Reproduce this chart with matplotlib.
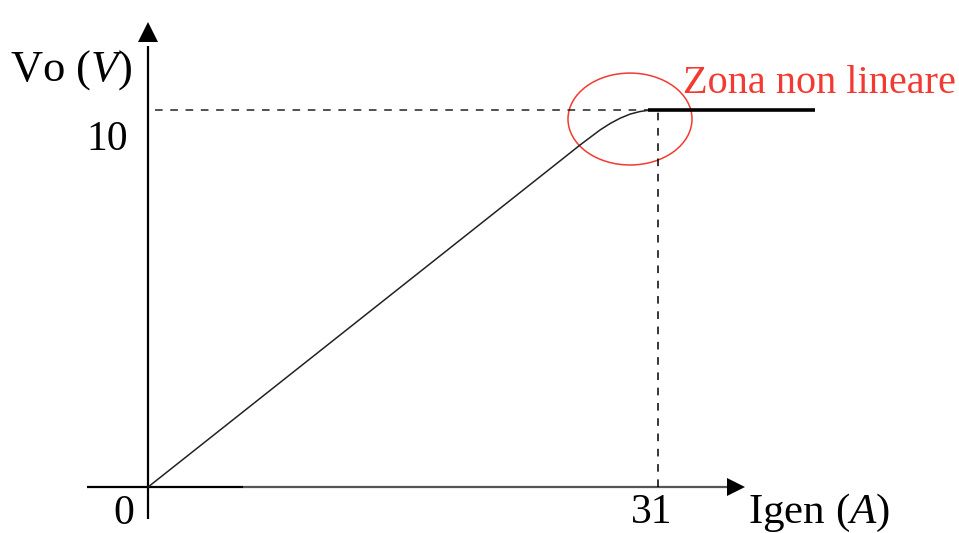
import matplotlib
matplotlib.use('Agg')
import matplotlib.pyplot as plt
from matplotlib.patches import Ellipse

# transfer curve Vo vs Igen
igen = [0.0, 25.05, 26.26, 26.87, 27.48, 28.09, 28.69, 29.30, 29.91, 30.4]
vo = [0.0, 8.66, 9.08, 9.28, 9.48, 9.65, 9.79, 9.90, 9.97, 10.0]
# saturated part
sat_igen = [30.4, 40.55]
sat_vo = [10.0, 10.0]

i_sat = 31
v_sat = 10
x_label = 'Igen $(A)$'
y_label = 'Vo $(V)$'
note = 'Zona non lineare'

plt.rcParams['font.family'] = ['Liberation Serif', 'DejaVu Serif']
plt.rcParams['mathtext.fontset'] = 'custom'
plt.rcParams['mathtext.rm'] = 'Liberation Serif'
plt.rcParams['mathtext.it'] = 'Liberation Serif:italic'

fig = plt.figure(figsize=(9.59, 5.33), dpi=100)
ax = fig.add_axes([0, 0, 1, 1])
ax.set_xlim(-9.0, 49.3)
ax.set_ylim(-1.22, 12.93)
ax.axis('off')

red = '#f23a32'

# axes with arrows
ax.plot([-3.71, 5.78], [0, 0], color='black', lw=1.6, solid_capstyle='butt')
ax.plot([5.78, 35.2], [0, 0], color='#555555', lw=1.6, solid_capstyle='butt')
ax.plot([0, 0], [-0.85, 11.7], color='black', lw=1.6, solid_capstyle='butt')
ax.plot([0], [12.08], marker='^', ms=14.4, color='black', mew=0)
ax.plot([35.74], [0], marker='>', ms=13, color='black', mew=0)

# guide lines
ax.plot([0.45, i_sat], [v_sat, v_sat], ls=(0, (5, 5)), color='#222222', lw=1.1)
ax.plot([i_sat, i_sat], [0, v_sat], ls=(0, (5, 5)), color='black', lw=1.1)

# curve
ax.plot(igen, vo, color='#222222', lw=1.1, solid_joinstyle='round')
ax.plot(sat_igen, sat_vo, color='black', lw=2.6, solid_capstyle='butt')

# non-linear zone
ax.add_patch(Ellipse((29.3, 9.77), 7.54, 2.44, fill=False, edgecolor=red, lw=1.1))
ax.text(32.52, 10.46, note, color=red, fontsize=29, ha='left', va='baseline')

# labels
ax.text(-8.39, 10.79, y_label, fontsize=32, ha='left', va='baseline')
ax.text(36.47, -0.96, x_label, fontsize=31, ha='left', va='baseline')
ax.text(-1.22, 8.95, '10', fontsize=30, ha='right', va='baseline')
ax.text(-1.49, -0.98, '0', fontsize=30, ha='center', va='baseline')
ax.text(30.64, -0.96, '31', fontsize=30, ha='center', va='baseline')

fig.savefig('out.png', dpi=100)
